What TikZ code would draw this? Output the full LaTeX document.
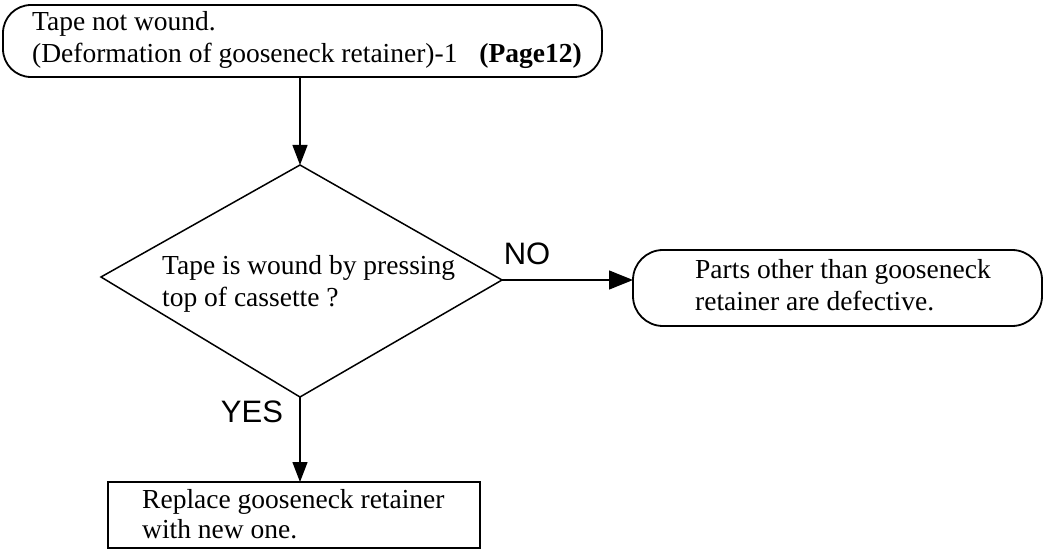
\documentclass[tikz,border=0pt]{standalone}
\usepackage{fontspec}
\setmainfont{Liberation Serif}
\newfontfamily\lbl{Liberation Sans}
\usetikzlibrary{arrows.meta}
\begin{document}
\begin{tikzpicture}[x=1pt,y=-1pt,
  txt/.style={font=\fontsize{27.5}{31}\selectfont, align=left, inner sep=0pt},
  lab/.style={font=\lbl\fontsize{31}{31}\selectfont, inner sep=0pt},
  frame/.style={draw, line width=1.8pt},
  conn/.style={line width=1.3pt, -{Triangle[length=20pt,width=15pt]}}]
\useasboundingbox (0,0) rectangle (1045,556);
% top box
\draw[frame, rounded corners=28pt] (3,5) rectangle (602,77);
\node[txt, anchor=base west] (t1) at (32,31) {Tape not wound.};
\node[txt, anchor=base west] (t2) at (32,63) {(Deformation of gooseneck retainer)-1\hspace{0.8em}\textbf{(Page12)}};
\coordinate (topout) at (300,77);
% diamond
\coordinate (dT) at (300,165);
\coordinate (dL) at (101,277);
\coordinate (dR) at (502,280);
\coordinate (dB) at (300,397);
\draw[frame, line width=1.5pt] (dT) -- (dR) -- (dB) -- (dL) -- cycle;
\node[txt, anchor=base west] (q1) at (162,275) {Tape is wound by pressing};
\node[txt, anchor=base west] (q2) at (162,306) {top of cassette ?};
% right box
\draw[frame, rounded corners=30pt] (633,250) rectangle (1042,326);
\node[txt, anchor=base west] (r1) at (695,279) {Parts other than gooseneck};
\node[txt, anchor=base west] (r2) at (695,311) {retainer are defective.};
\coordinate (rin) at (633,280);
% bottom box
\draw[frame] (108,482) rectangle (480,548);
\node[txt, anchor=base west] (b1) at (142,508) {Replace gooseneck retainer};
\node[txt, anchor=base west] (b2) at (142,538) {with new one.};
\coordinate (bin) at (300,482);
% connectors
\draw[conn] (topout) -- (dT);
\draw[conn, -{Triangle[length=24pt,width=19pt]}] (dR) -- (rin);
\draw[conn] (dB) -- (bin);
\node[lab] (no) at (527,254) {NO};
\node[lab] (yes) at (252,412) {YES};
\end{tikzpicture}
\end{document}
